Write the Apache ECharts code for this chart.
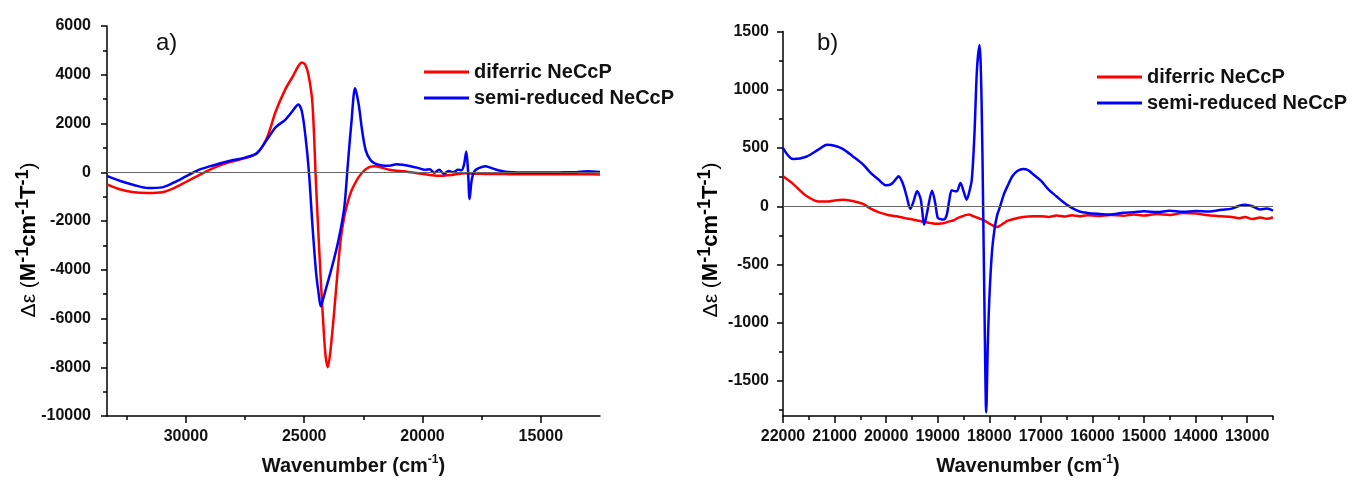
<!DOCTYPE html>
<html>
<head>
<meta charset="utf-8">
<script src="https://cdn.jsdelivr.net/npm/echarts@6/dist/echarts.min.js"></script>
<style>
html, body { margin: 0; padding: 0; background: #fff; }
#chart { width: 1353px; height: 481px; }
</style>
</head>
<body>
<div id="chart"></div>
<script>
// panel a) full range, 300-800 nm
var aWn = [33333, 32800, 32200, 31600, 31000, 30500, 30000, 29500, 29000, 28500,
    28000, 27500, 27000, 26600, 26200, 25800, 25500, 25250, 25100, 24950,
    24800, 24650, 24500, 24400, 24300, 24200, 24100, 24000, 23900, 23750,
    23600, 23450, 23300, 23150, 23000, 22850, 22700, 22550, 22400, 22200,
    22000, 21700, 21400, 21100, 20800, 20500, 20200, 19900, 19700, 19500,
    19300, 19100, 18900, 18700, 18500, 18350, 18250, 18150, 18080, 18010,
    17920, 17800, 17600, 17350, 17100, 16800, 16500, 16200, 15800, 15400,
    15000, 14500, 14000, 13500, 13200, 13000, 12800, 12500];
var aDiferric = [-500, -700, -820, -850, -820, -650, -400, -150, 100, 300,
    450, 580, 780, 1350, 2500, 3400, 3900, 4350, 4500, 4400,
    3900, 2800, -500, -2500, -4400, -6100, -7500, -8000, -7400, -5900,
    -4200, -2700, -1800, -1200, -750, -450, -200, -20, 120, 230,
    250, 180, 100, 60, 40, 0, -40, -80, -110, -130,
    -140, -140, -120, -100, -70, -50, -40, -40, -45, -50,
    -60, -60, -65, -70, -70, -75, -75, -80, -80, -80,
    -85, -85, -85, -80, -80, -85, -85, -90];
var aSemi = [-150, -350, -520, -650, -620, -420, -170, 80, 240, 380,
    500, 600, 780, 1300, 1850, 2150, 2500, 2780, 2500, 1500,
    0, -2200, -4100, -4900, -5500, -5200, -4850, -4500, -4150, -3600,
    -3000, -2300, -1400, 400, 2100, 3450, 2800, 1700, 900, 500,
    350, 280, 270, 330, 300, 250, 180, 100, 120, -20,
    100, -60, 50, 0, 100, 80, 300, 850, 100, -1100,
    -300, 50, 180, 250, 180, 80, 20, 0, -10, -10,
    -10, -10, -5, 0, 30, 40, 30, 10];

// panel b) visible region
var bWn = [22000, 21800, 21550, 21300, 21150, 21000, 20850, 20650, 20450, 20300,
    20150, 20000, 19900, 19800, 19760, 19700, 19650, 19600, 19530, 19470,
    19400, 19330, 19260, 19200, 19110, 19050, 19000, 18950, 18890, 18830,
    18780, 18730, 18680, 18630, 18560, 18500, 18440, 18390, 18340, 18290,
    18240, 18190, 18150, 18120, 18090, 18060, 18030, 18000, 17950, 17900,
    17850, 17790, 17720, 17650, 17550, 17450, 17340, 17250, 17150, 17000,
    16850, 16700, 16550, 16400, 16250, 16100, 15900, 15650, 15400, 15200,
    15000, 14750, 14500, 14250, 14000, 13750, 13500, 13300, 13150, 13040,
    12900, 12750, 12620, 12500];
var bDiferric = [257, 190, 90, 40, 40, 50, 57, 45, 20, -20,
    -50, -70, -80, -86, -90, -95, -100, -105, -110, -115,
    -122, -128, -135, -140, -145, -150, -151, -148, -145, -138,
    -130, -125, -118, -105, -92, -82, -74, -71, -80, -88,
    -96, -105, -112, -118, -125, -132, -140, -148, -160, -172,
    -177, -165, -145, -125, -112, -100, -92, -88, -86, -85,
    -92, -80, -88, -78, -86, -76, -84, -74, -82, -70,
    -80, -66, -74, -58, -62, -78, -86, -92, -102, -92,
    -110, -96, -108, -94];
var bSemi = [500, 405, 425, 490, 528, 520, 495, 430, 360, 286,
    230, 180, 190, 240, 257, 220, 160, 80, -22, 40,
    128, 60, -157, -40, 134, 30, -100, -110, -114, -80,
    40, 137, 130, 128, 200, 130, 57, 120, 228, 600,
    1170, 1384, 900, 0, -1000, -1769, -1200, -800, -400, -200,
    -80, 0, 100, 171, 260, 305, 320, 310, 275, 220,
    143, 86, 30, -14, -45, -57, -65, -71, -55, -51,
    -42, -50, -38, -48, -40, -45, -30, -20, 5, 14,
    0, -28, -20, -37];

var aMajorX = [30000, 25000, 20000, 15000];
var aMinorX = [32500, 27500, 22500, 17500];
var bMajorX = [22000, 21000, 20000, 19000, 18000, 17000, 16000, 15000, 14000, 13000];
var bMinorX = [21500, 20500, 19500, 18500, 17500, 16500, 15500, 14500, 13500, 12500];
var bMajorY = [-1500, -1000, -500, 0, 500, 1000, 1500];
var bMinorY = [-1750, -1250, -750, -250, 250, 750, 1250];
var seriesNames = ['diferric NeCcP', 'semi-reduced NeCcP'];

var FONT = "'Liberation Sans', Arial, sans-serif";

function pairs(xs, ys) {
    return xs.map(function (x, i) { return [x, ys[i]]; });
}

function fmt(v) { return String(v); }

var labelStyle = { fontFamily: FONT, fontSize: 16, fontWeight: 'bold', color: '#111', formatter: fmt };
var lineStyleAxis = { color: '#000', width: 1.5 };

var xName = '{b|Wavenumber (cm}{s|-1}{b|)}';
var xNameStyle = {
    rich: {
        b: { fontFamily: FONT, fontSize: 20, fontWeight: 'bold', color: '#111', lineHeight: 24 },
        s: { fontFamily: FONT, fontSize: 12, fontWeight: 'bold', color: '#111', lineHeight: 12, verticalAlign: 'top' }
    }
};
var yName = '{g|\u0394\u03b5 (}{b|M}{s|-1}{b|cm}{s|-1}{b|T}{s|-1}{g|)}';
var yRich = {
    g: { fontFamily: FONT, fontSize: 21, color: '#111', lineHeight: 30 },
    b: { fontFamily: FONT, fontSize: 22, fontWeight: 'bold', color: '#111', lineHeight: 30 },
    s: { fontFamily: FONT, fontSize: 18, fontWeight: 'bold', color: '#111', lineHeight: 17, verticalAlign: 'top' }
};

function mainX(grid, min, max, major) {
    return {
        type: 'value', gridIndex: grid, min: min, max: max, inverse: true, position: 'bottom',
        axisLine: { onZero: false, lineStyle: lineStyleAxis },
        axisTick: { customValues: major, length: 7, lineStyle: lineStyleAxis },
        axisLabel: Object.assign({ customValues: major, margin: 13 }, labelStyle),
        splitLine: { show: false },
        name: xName, nameLocation: 'middle', nameGap: 38, nameTextStyle: xNameStyle
    };
}

function minorX(grid, min, max, minor) {
    return {
        type: 'value', gridIndex: grid, min: min, max: max, inverse: true, position: 'bottom',
        axisLine: { show: false, onZero: false },
        axisTick: { customValues: minor, length: 4, lineStyle: lineStyleAxis },
        axisLabel: { show: false },
        splitLine: { show: false }
    };
}

var legendBase = {
    orient: 'vertical', icon: 'rect', itemWidth: 45, itemHeight: 3, itemGap: 6,
    textStyle: { fontFamily: FONT, fontSize: 20, fontWeight: 'bold', color: '#111' },
    data: seriesNames
};

var zeroLine = {
    silent: true, symbol: 'none', label: { show: false },
    lineStyle: { color: '#666', width: 1, type: 'solid' },
    data: [{ yAxis: 0 }]
};

function line(name, xi, yi, data, color, mark) {
    var s = {
        name: name, type: 'line', xAxisIndex: xi, yAxisIndex: yi,
        data: data, showSymbol: false, smooth: 0.3,
        lineStyle: { color: color, width: 2.5 }, itemStyle: { color: color }
    };
    if (mark) s.markLine = zeroLine;
    return s;
}

var chart = echarts.init(document.getElementById('chart'));
chart.setOption({
    animation: false,
    backgroundColor: '#fff',
    grid: [
        { left: 107, right: 753, top: 26, bottom: 63 },
        { left: 783, right: 80, top: 31.5, bottom: 64 }
    ],
    xAxis: [
        mainX(0, 12500, 33333, aMajorX),
        mainX(1, 12500, 22000, bMajorX),
        minorX(0, 12500, 33333, aMinorX),
        minorX(1, 12500, 22000, bMinorX)
    ],
    yAxis: [
        {
            type: 'value', gridIndex: 0, position: 'left', min: -10000, max: 6000, interval: 2000,
            axisLine: { show: true, lineStyle: lineStyleAxis },
            axisTick: { show: true, length: 6, lineStyle: lineStyleAxis },
            minorTick: { show: true, splitNumber: 2, length: 4, lineStyle: lineStyleAxis },
            axisLabel: Object.assign({ margin: 16 }, labelStyle),
            splitLine: { show: false }
        },
        {
            type: 'value', gridIndex: 1, position: 'left', min: -1800, max: 1500,
            axisLine: { show: true, lineStyle: lineStyleAxis },
            axisTick: { show: true, customValues: bMajorY, length: 6, lineStyle: lineStyleAxis },
            axisLabel: Object.assign({ customValues: bMajorY, margin: 14 }, labelStyle),
            splitLine: { show: false }
        },
        {
            type: 'value', gridIndex: 1, position: 'left', offset: 0, min: -1800, max: 1500,
            axisLine: { show: false },
            axisTick: { show: true, customValues: bMinorY, length: 4, lineStyle: lineStyleAxis },
            axisLabel: { show: false },
            splitLine: { show: false }
        }
    ],
    legend: [
        Object.assign({ left: 419, top: 57 }, legendBase),
        Object.assign({ left: 1092, top: 62 }, legendBase)
    ],
    graphic: [
        { type: 'text', left: 156, top: 31, style: { text: 'a)', font: '24px ' + FONT, fill: '#111' } },
        { type: 'text', left: 817, top: 31, style: { text: 'b)', font: '24px ' + FONT, fill: '#111' } },
        { type: 'text', x: 29, y: 240, rotation: Math.PI / 2,
          style: { text: yName, rich: yRich, align: 'center', verticalAlign: 'middle' } },
        { type: 'text', x: 711, y: 240, rotation: Math.PI / 2,
          style: { text: yName, rich: yRich, align: 'center', verticalAlign: 'middle' } }
    ],
    series: [
        line(seriesNames[0], 0, 0, pairs(aWn, aDiferric), '#ff0000', true),
        line(seriesNames[1], 0, 0, pairs(aWn, aSemi), '#0000ff', false),
        line(seriesNames[0], 1, 1, pairs(bWn, bDiferric), '#ff0000', true),
        line(seriesNames[1], 1, 1, pairs(bWn, bSemi), '#0000ff', false)
    ]
});
</script>
</body>
</html>
